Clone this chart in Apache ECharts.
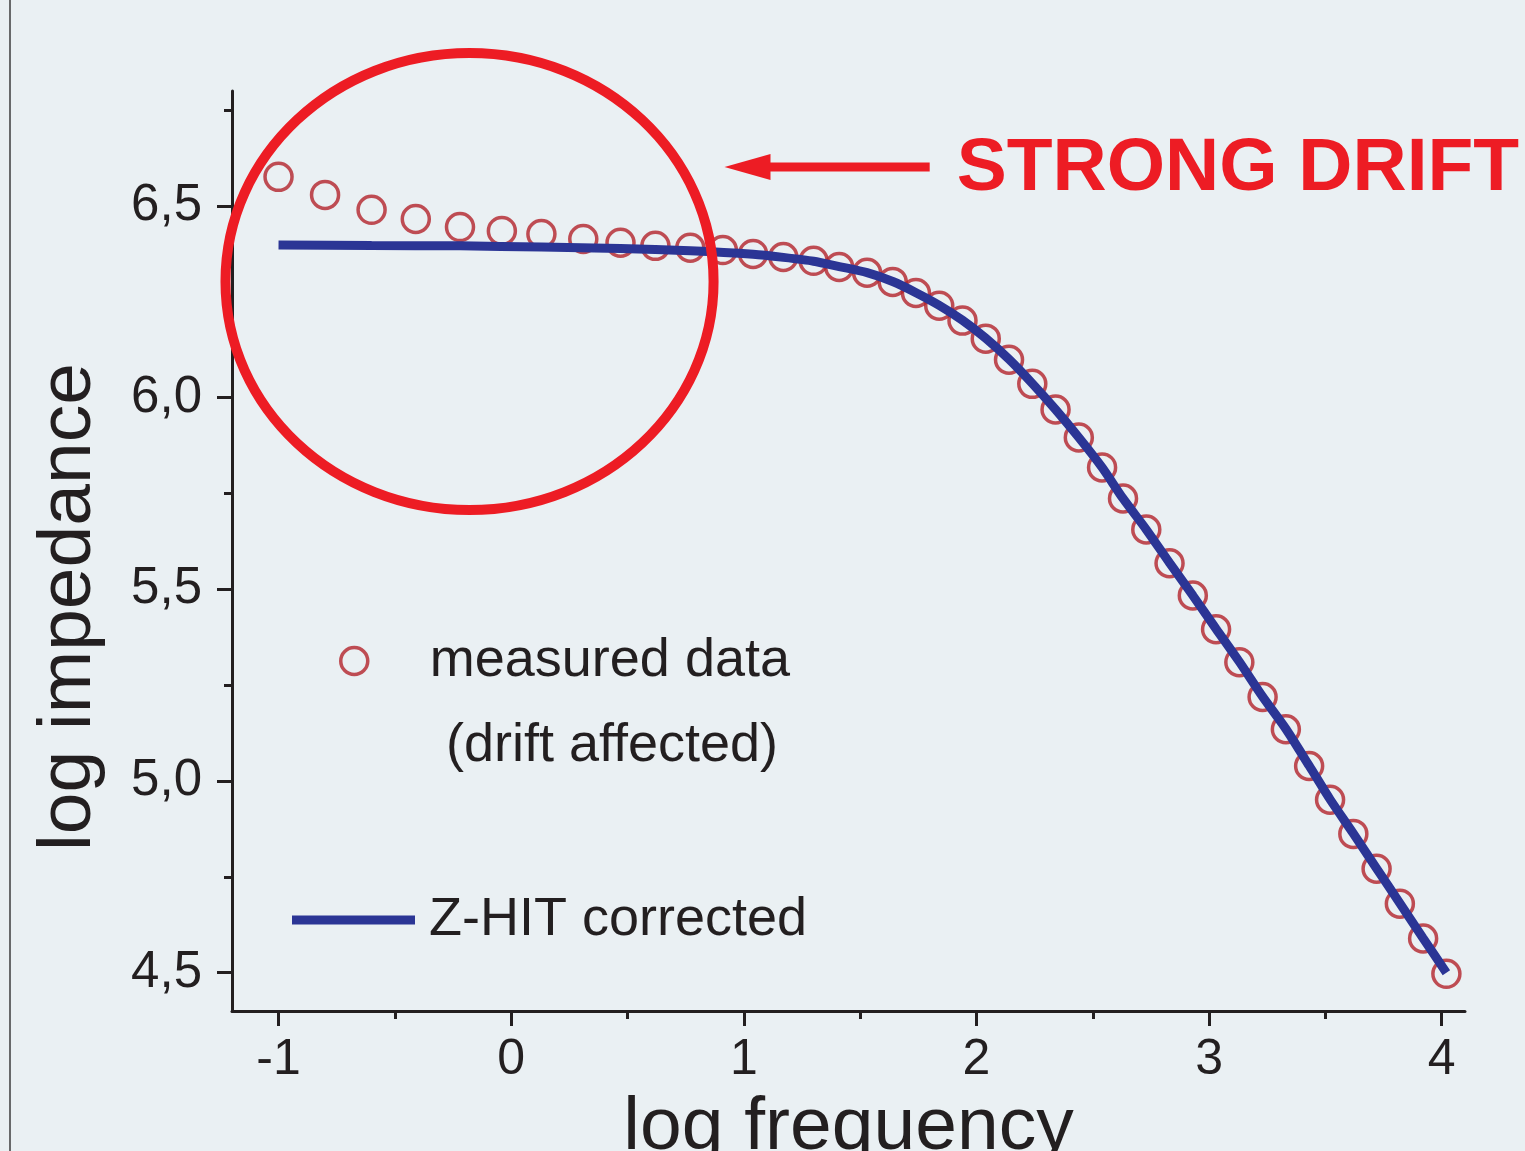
<!DOCTYPE html>
<html>
<head>
    <meta charset="utf-8" />
    <script src="https://cdn.jsdelivr.net/npm/echarts@6/dist/echarts.min.js"></script>
    <style>
        body { margin: 0; background: #eaf0f3; }
        #chart { width: 1525px; height: 1151px; }
    </style>
</head>
<body>
<div id="chart"></div>
<script type="text/javascript">
    // measured data (drift affected)
    var measX = [-1.00, -0.80, -0.60, -0.41, -0.22, -0.04, 0.13, 0.31, 0.47, 0.62, 0.77, 0.91, 1.04, 1.17, 1.30, 1.41, 1.53, 1.64, 1.74, 1.84, 1.94,
        2.04, 2.14, 2.24, 2.34, 2.44, 2.54, 2.63, 2.73, 2.83, 2.93, 3.03, 3.13, 3.23, 3.33, 3.43, 3.52, 3.62, 3.72, 3.82, 3.92, 4.02];
    var measY = [6.576, 6.529, 6.490, 6.466, 6.445, 6.435, 6.427, 6.414, 6.404, 6.396, 6.391, 6.385, 6.375, 6.367, 6.357, 6.341, 6.326, 6.302, 6.273, 6.240, 6.201,
        6.154, 6.099, 6.036, 5.969, 5.896, 5.818, 5.737, 5.656, 5.568, 5.484, 5.396, 5.310, 5.219, 5.135, 5.039, 4.951, 4.862, 4.771, 4.680, 4.589, 4.497];
    // Z-HIT corrected
    var zhitX = [-1.00, -0.60, -0.22, 0.13, 0.47, 0.77, 1.04, 1.17, 1.30, 1.41, 1.53, 1.64, 1.74, 1.84, 1.94, 2.04, 2.14, 2.24, 2.34, 2.44,
        2.54, 2.63, 2.73, 2.83, 2.93, 3.03, 3.13, 3.23, 3.33, 3.43, 3.52, 3.62, 3.72, 3.82, 3.92, 4.02];
    var zhitY = [6.398, 6.397, 6.396, 6.393, 6.389, 6.383, 6.374, 6.366, 6.356, 6.342, 6.326, 6.303, 6.274, 6.241, 6.202, 6.155, 6.100, 6.037, 5.969, 5.896,
        5.818, 5.737, 5.656, 5.569, 5.484, 5.397, 5.311, 5.220, 5.136, 5.040, 4.952, 4.863, 4.772, 4.681, 4.590, 4.500];

    var xTicks = [-1, 0, 1, 2, 3, 4];
    var xMinor = [-0.5, 0.5, 1.5, 2.5, 3.5];
    var yTicks = [4.5, 5.0, 5.5, 6.0, 6.5];
    var yMinor = [4.75, 5.25, 5.75, 6.25, 6.75];

    // annotation (data coords): ellipse center/radii, arrow tip/tail
    var ringC = [-0.179, 6.303];
    var ringR = [1.049, 0.596];
    var arrowTip = [0.917, 6.602];
    var arrowTail = [1.799, 6.602];
    var noteText = 'STRONG DRIFT';

    var font = "'Liberation Sans', Arial, Helvetica, sans-serif";
    var ink = '#231f20';
    var dotColor = '#b3232b';
    var lineColor = '#2b3595';

    function pairs(xs, ys) {
        var out = [];
        for (var i = 0; i < xs.length; i++) out.push([xs[i], ys[i]]);
        return out;
    }

    var chart = echarts.init(document.getElementById('chart'));
    var option = {
        animation: false,
        backgroundColor: '#eaf0f3',
        grid: { left: 232, right: 60, top: 91, bottom: 140, outerBoundsMode: 'none' },
        xAxis: [
            {
                type: 'value', min: -1.2, max: 4.1,
                name: 'log frequency', nameLocation: 'middle', nameGap: 80,
                nameTextStyle: { fontSize: 75, color: ink, fontFamily: font },
                axisLine: { onZero: false, lineStyle: { color: ink, width: 3 } },
                axisTick: { customValues: xTicks, length: 15, lineStyle: { color: ink, width: 3 } },
                axisLabel: {
                    customValues: xTicks, margin: 24, fontSize: 50, color: ink, fontFamily: font,
                    formatter: function (v) { return String(v); }
                },
                splitLine: { show: false }
            },
            {
                type: 'value', min: -1.2, max: 4.1, position: 'bottom', gridIndex: 0,
                axisLine: { show: false, onZero: false },
                axisTick: { customValues: xMinor, length: 8, lineStyle: { color: ink, width: 3 } },
                axisLabel: { show: false },
                splitLine: { show: false }
            }
        ],
        yAxis: [
            {
                type: 'value', min: 4.4, max: 6.8,
                name: 'log impedance', nameLocation: 'middle', nameGap: 125,
                nameTextStyle: { fontSize: 75, color: ink, fontFamily: font, padding: [0, 112, 0, 0] },
                axisLine: { onZero: false, lineStyle: { color: ink, width: 3 } },
                axisTick: { customValues: yTicks, length: 15, lineStyle: { color: ink, width: 3 } },
                axisLabel: {
                    customValues: yTicks, margin: 30, fontSize: 51, color: ink, fontFamily: font,
                    formatter: function (v) { return v.toFixed(1).replace('.', ','); }
                },
                splitLine: { show: false }
            },
            {
                type: 'value', min: 4.4, max: 6.8, position: 'left', gridIndex: 0,
                axisLine: { show: false, onZero: false },
                axisTick: { customValues: yMinor, length: 8, lineStyle: { color: ink, width: 3 } },
                axisLabel: { show: false },
                splitLine: { show: false }
            }
        ],
        legend: [
            {
                data: [{ name: 'measured data', icon: 'circle' }], left: 339, top: 634, padding: 0,
                itemWidth: 123, itemHeight: 27, selectedMode: false,
                itemStyle: { color: 'rgba(0,0,0,0)', borderColor: dotColor, borderWidth: 3.5 },
                textStyle: { fontSize: 54, color: ink, fontFamily: font, padding: [0, 0, 0, 9] }
            },
            {
                data: [{ name: 'Z-HIT corrected', icon: 'rect' }], left: 292, top: 893, padding: 0,
                itemWidth: 123, itemHeight: 9, selectedMode: false,
                itemStyle: { color: lineColor, borderWidth: 0 },
                textStyle: { fontSize: 54, color: ink, fontFamily: font, padding: [0, 0, 0, 9] }
            }
        ],
        series: [
            {
                name: 'measured data',
                type: 'scatter',
                data: pairs(measX, measY),
                symbol: 'circle',
                symbolSize: 27,
                itemStyle: { color: 'rgba(0,0,0,0)', borderColor: dotColor, borderWidth: 3.5 },
                z: 2
            },
            {
                name: 'Z-HIT corrected',
                type: 'line',
                data: pairs(zhitX, zhitY),
                smooth: 0.25,
                showSymbol: false,
                symbol: 'none',
                lineStyle: { color: lineColor, width: 9, cap: 'butt' },
                itemStyle: { color: lineColor },
                z: 3
            }
        ]
    };
    chart.setOption(option);

    function px(p) { return chart.convertToPixel({ gridIndex: 0 }, p); }

    var c = px(ringC);
    var cr = px([ringC[0] + ringR[0], ringC[1] + ringR[1]]);
    var tip = px(arrowTip);
    var tail = px(arrowTail);
    var red = '#ed1c24';

    chart.setOption({
        graphic: [
            {
                type: 'line', z: 1,
                shape: { x1: 10, y1: 0, x2: 10, y2: 1151 },
                style: { stroke: '#3c3c3c', lineWidth: 1.5 }
            },
            {
                type: 'ellipse', z: 10,
                shape: { cx: c[0], cy: c[1], rx: cr[0] - c[0], ry: c[1] - cr[1] },
                style: { fill: 'none', stroke: red, lineWidth: 10 }
            },
            {
                type: 'line', z: 10,
                shape: { x1: tip[0] + 40, y1: tip[1], x2: tail[0], y2: tail[1] },
                style: { stroke: red, lineWidth: 9 }
            },
            {
                type: 'polygon', z: 10,
                shape: { points: [[tip[0], tip[1]], [tip[0] + 46, tip[1] - 13], [tip[0] + 46, tip[1] + 13]] },
                style: { fill: red }
            },
            {
                type: 'text', z: 10,
                x: tail[0] + 27, y: tail[1] + 2,
                style: {
                    text: noteText, fill: red, font: 'bold 75px ' + font,
                    textAlign: 'left', textVerticalAlign: 'middle'
                }
            },
            {
                type: 'text', z: 10,
                x: 612, y: 746,
                style: {
                    text: '(drift affected)', fill: ink, font: '54px ' + font,
                    textAlign: 'center', textVerticalAlign: 'middle'
                }
            }
        ]
    });
</script>
</body>
</html>
